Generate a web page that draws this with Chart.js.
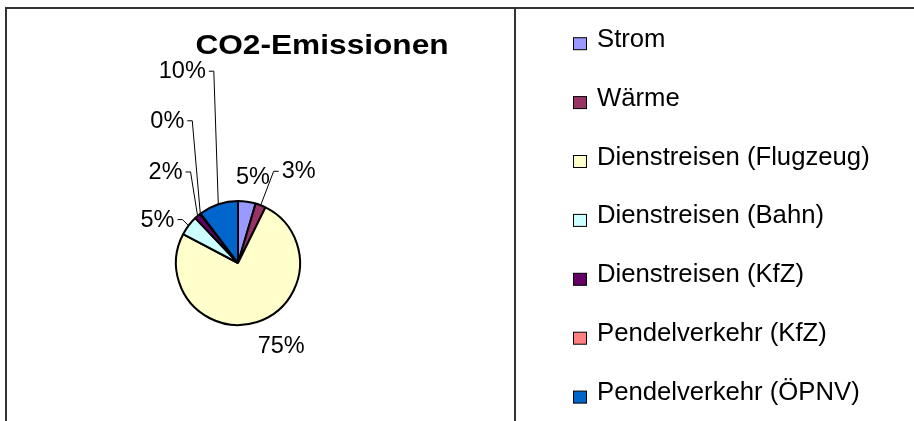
<!DOCTYPE html>
<html>
<head>
<meta charset="utf-8">
<script src="https://cdn.jsdelivr.net/npm/chart.js@4/dist/chart.umd.min.js"></script>
<style>
  html, body { margin: 0; padding: 0; background: #ffffff; }
  canvas { display: block; }
</style>
</head>
<body>
<canvas id="c" width="914" height="421"></canvas>
<script>
// ---- data ----
const chartTitle = 'CO2-Emissionen';
const categories = [
  'Strom',
  'Wärme',
  'Dienstreisen (Flugzeug)',
  'Dienstreisen (Bahn)',
  'Dienstreisen (KfZ)',
  'Pendelverkehr (KfZ)',
  'Pendelverkehr (ÖPNV)'
];
const emissionShares = [4.6, 2.7, 75.4, 5.2, 1.6, 0.2, 10.3];
const sliceColors = ['#9999FF', '#993366', '#FFFFCC', '#CCFFFF', '#660066', '#FF8080', '#0066CC'];

// ---- label placement (style, not data) ----
const labelOffsets = [[6, -26], [38, -35], [24, 23], [-31, -7], [-32, -45], [-33, -94], [-36, -134]];
const labelLeaders = [false, true, false, true, true, true, true];

const FONT = '"Liberation Sans", Arial, sans-serif';

const framePlugin = {
  id: 'frame',
  beforeDraw(chart) {
    const ctx = chart.ctx;
    ctx.save();
    ctx.fillStyle = '#ffffff';
    ctx.fillRect(0, 0, chart.width, chart.height);
    ctx.strokeStyle = '#333333';
    ctx.lineWidth = 2;
    ctx.beginPath();
    ctx.moveTo(6, chart.height); ctx.lineTo(6, 8); ctx.lineTo(chart.width, 8);
    ctx.moveTo(515, 8); ctx.lineTo(515, chart.height);
    ctx.stroke();
    // title
    ctx.translate(322, 53.5);
    ctx.scale(1.13, 1);
    ctx.fillStyle = '#000000';
    ctx.font = 'bold 28px ' + FONT;
    ctx.textAlign = 'center';
    ctx.textBaseline = 'alphabetic';
    ctx.fillText(chartTitle, 0, 0);
    ctx.restore();
  }
};

const labelPlugin = {
  id: 'pctLabels',
  afterDatasetsDraw(chart) {
    const ctx = chart.ctx;
    const meta = chart.getDatasetMeta(0);
    const values = chart.data.datasets[0].data;
    const total = values.reduce((a, b) => a + b, 0);
    ctx.save();
    ctx.font = '23.5px ' + FONT;
    ctx.fillStyle = '#000000';
    ctx.strokeStyle = '#000000';
    ctx.lineWidth = 1;
    ctx.textAlign = 'center';
    ctx.textBaseline = 'alphabetic';
    meta.data.forEach((arc, i) => {
      const p = arc.getProps(['x', 'y', 'startAngle', 'endAngle', 'outerRadius'], true);
      const mid = (p.startAngle + p.endAngle) / 2;
      const ex = p.x + Math.cos(mid) * p.outerRadius;
      const ey = p.y + Math.sin(mid) * p.outerRadius;
      const lx = ex + labelOffsets[i][0];
      const ly = ey + labelOffsets[i][1];
      const txt = Math.round(values[i] / total * 100) + '%';
      ctx.fillText(txt, lx, ly + 8);
      if (labelLeaders[i]) {
        const w = ctx.measureText(txt).width;
        const dir = labelOffsets[i][0] < 0 ? 1 : -1;
        const sx = lx + dir * (w / 2 + 3);
        const tx = sx + dir * 5;
        ctx.beginPath();
        ctx.moveTo(sx, ly + 1);
        ctx.lineTo(tx, ly + 1);
        ctx.lineTo(ex, ey);
        ctx.stroke();
      }
    });
    ctx.restore();
  }
};

const legendPlugin = {
  id: 'sideLegend',
  afterDraw(chart) {
    const ctx = chart.ctx;
    const labels = chart.data.labels;
    const colors = chart.data.datasets[0].backgroundColor;
    ctx.save();
    ctx.font = '25.7px ' + FONT;
    ctx.textAlign = 'left';
    ctx.textBaseline = 'alphabetic';
    labels.forEach((lab, i) => {
      const base = 46.7 + 58.9 * i;
      ctx.fillStyle = colors[i];
      ctx.fillRect(573.5, base - 9, 13, 12);
      ctx.strokeStyle = '#000000';
      ctx.lineWidth = 1;
      ctx.strokeRect(573.5, base - 9, 13, 12);
      ctx.fillStyle = '#000000';
      ctx.fillText(lab, 597, base);
    });
    ctx.restore();
  }
};

new Chart(document.getElementById('c'), {
  type: 'pie',
  data: {
    labels: categories,
    datasets: [{
      data: emissionShares,
      backgroundColor: sliceColors,
      borderColor: '#000000',
      borderWidth: 2
    }]
  },
  options: {
    responsive: false,
    devicePixelRatio: 1,
    animation: false,
    events: [],
    layout: { padding: { left: 175, right: 613, top: 200, bottom: 95 } },
    plugins: {
      legend: { display: false },
      title: { display: false },
      tooltip: { enabled: false }
    }
  },
  plugins: [framePlugin, labelPlugin, legendPlugin]
});
</script>
</body>
</html>
